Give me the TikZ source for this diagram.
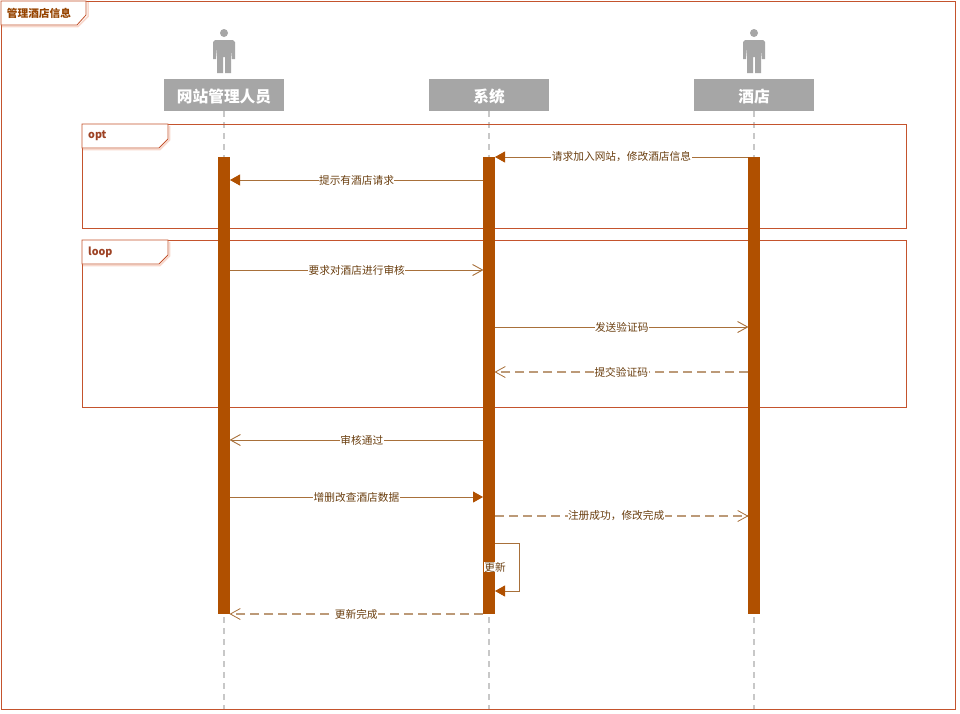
\documentclass[tikz,border=0pt]{standalone}
\usepackage{fontspec}
\setmainfont{Noto Sans CJK SC}
\usetikzlibrary{arrows.meta}
\definecolor{framered}{HTML}{C4532D}
\definecolor{tagshadow}{HTML}{F8D8CC}
\definecolor{barbrown}{HTML}{B05000}
\definecolor{msgline}{HTML}{A8703A}
\definecolor{dashline}{HTML}{BC9A78}
\definecolor{msgtext}{HTML}{6B3F10}
\definecolor{actorgray}{HTML}{A6A6A6}
\definecolor{lifegray}{HTML}{C8C8C8}
\tikzset{
    actorbox/.style={fill=actorgray, text=white, minimum width=120pt, minimum height=32pt, inner sep=0pt, text height=14pt, text depth=0pt, font=\fontsize{15.7}{18}\selectfont\bfseries},
    bar/.style={fill=barbrown, minimum width=12pt, minimum height=457pt, inner sep=0pt},
    lifeline/.style={lifegray, line width=1.2pt, dash pattern=on 6pt off 5pt},
    frame/.style={framered, line width=0.8pt},
    tagtext/.style={text=framered!80!black, inner sep=0pt, font=\fontsize{10.7}{12}\selectfont\bfseries},
    msg/.style={msgline, line width=0.9pt, -{Triangle[length=10pt,width=11pt,color=barbrown]}},
    msgopen/.style={msgline, line width=0.9pt, -{Straight Barb[length=10pt,width=11pt]}},
    msgdash/.style={dashline, line width=1.1pt, dash pattern=on 9pt off 5pt, -{Straight Barb[length=10pt,width=11pt,color=msgline,line width=0.8pt]}},
    msglabel/.style={fill=white, text=msgtext, inner sep=0.5pt, font=\fontsize{10.7}{12}\selectfont}
}
\begin{document}
\begin{tikzpicture}[x=1pt, y=-1pt]
    \useasboundingbox (0,0) rectangle (960,713);
    \fill[white] (0,0) rectangle (960,713);

    % Outer frame and its tag
    \draw[frame] (1,1) rectangle (955.5,709);
    \draw[tagshadow, line width=1.5pt] (2,26.5) -- (78,26.5) -- (88,16.5) -- (88,2);
    \draw[frame, fill=white] (1,1) -- (86,1) -- (86,15) -- (77,25) -- (1,25) -- cycle;
    \node[tagtext, text=barbrown!85!black] (maintag) at (39,13) {管理酒店信息};

    % Lifelines
    \node[actorbox] (staffbox) at (224,95) {网站管理人员};
    \node[actorbox] (sysbox) at (489,95) {系统};
    \node[actorbox] (hotelbox) at (754,95) {酒店};
    \coordinate (staffend) at (224,709);
    \coordinate (sysend) at (489,709);
    \coordinate (hotelend) at (754,709);
    \draw[lifeline] (staffbox.south) -- (staffend);
    \draw[lifeline] (sysbox.south) -- (sysend);
    \draw[lifeline] (hotelbox.south) -- (hotelend);

    % Actors
    \foreach \x in {224,754} {
        \fill[actorgray] (\x,33) circle (4pt);
        \fill[actorgray] (\x-9,40) -- (\x+9,40) -- (\x+11,42) -- (\x+11,59) -- (\x+8,59) -- (\x+7,47)
            -- (\x+7,73) -- (\x+1,73) -- (\x+1,57) -- (\x-1,57) -- (\x-1,73) -- (\x-7,73) -- (\x-7,47)
            -- (\x-8,59) -- (\x-11,59) -- (\x-11,42) -- cycle;
    }

    % opt and loop frames
    \draw[tagshadow, line width=1.5pt] (83,149.5) -- (160,149.5) -- (169.5,140) -- (169.5,126);
    \draw[frame] (82,124) rectangle (906.5,228);
    \draw[frame, fill=white] (82,124) -- (168,124) -- (168,139) -- (159,148) -- (82,148) -- cycle;
    \node[tagtext, anchor=west] (opttag) at (88,136) {opt};
    \draw[tagshadow, line width=1.5pt] (83,265.5) -- (160,265.5) -- (169.5,256) -- (169.5,242);
    \draw[frame] (82,240) rectangle (906.5,407);
    \draw[frame, fill=white] (82,240) -- (168,240) -- (168,255) -- (159,264) -- (82,264) -- cycle;
    \node[tagtext, anchor=west] (looptag) at (88,252) {loop};

    % Activation bars
    \node[bar, anchor=north] (staffbar) at (224,157) {};
    \node[bar, anchor=north] (sysbar) at (489,157) {};
    \node[bar, anchor=north] (hotelbar) at (754,157) {};

    % Message end points
    \coordinate (a1) at (748,157); \coordinate (b1) at (495,157);
    \coordinate (a2) at (483,180); \coordinate (b2) at (230,180);
    \coordinate (a3) at (230,270); \coordinate (b3) at (483.5,270);
    \coordinate (a4) at (495,327); \coordinate (b4) at (748.5,327);
    \coordinate (a5) at (748,372); \coordinate (b5) at (494.5,372);
    \coordinate (a6) at (483,440); \coordinate (b6) at (229.5,440);
    \coordinate (a7) at (230,497); \coordinate (b7) at (483,497);
    \coordinate (a8) at (495,516); \coordinate (b8) at (748.5,516);
    \coordinate (a9) at (495,543); \coordinate (b9) at (495,591);
    \coordinate (a10) at (483,614); \coordinate (b10) at (229.5,614);

    % Messages
    \draw[msg] (a1) -- node[msglabel] (m1) {请求加入网站，修改酒店信息} (b1);
    \draw[msg] (a2) -- node[msglabel] (m2) {提示有酒店请求} (b2);
    \draw[msgopen] (a3) -- node[msglabel] (m3) {要求对酒店进行审核} (b3);
    \draw[msgopen] (a4) -- node[msglabel] (m4) {发送验证码} (b4);
    \draw[msgdash] (a5) -- node[msglabel] (m5) {提交验证码} (b5);
    \draw[msgopen] (a6) -- node[msglabel, pos=0.478] (m6) {审核通过} (b6);
    \draw[msg] (a7) -- node[msglabel] (m7) {增删改查酒店数据} (b7);
    \draw[msgdash] (a8) -- node[msglabel, pos=0.478] (m8) {注册成功，修改完成} (b8);
    \draw[msg] (a9) -- ++(24,0) -- ++(0,48) -- (b9);
    \node[msglabel] (m9) at (495,567) {更新};
    \draw[msgdash] (a10) -- node[msglabel] (m10) {更新完成} (b10);
\end{tikzpicture}
\end{document}
